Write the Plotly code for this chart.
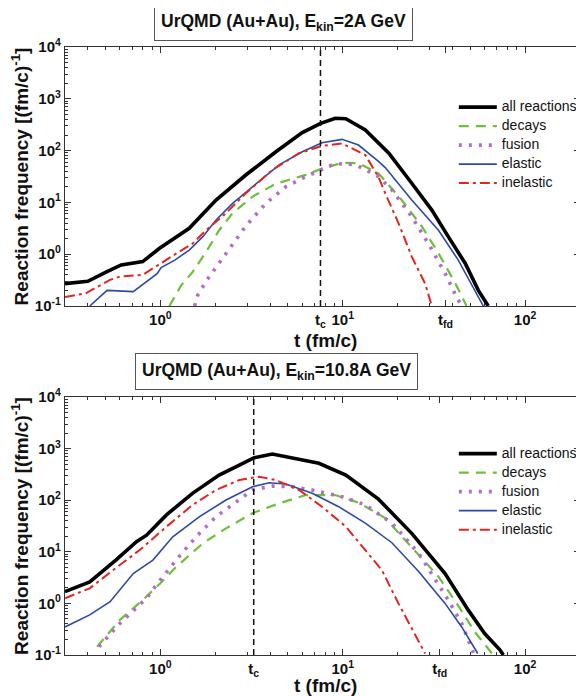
import plotly.graph_objects as go
from plotly.subplots import make_subplots

# ---------------- data: top panel (E_kin = 2A GeV) ----------------
t_all_top = [0.3, 0.4, 0.51, 0.61, 0.8, 0.99, 1.44, 2.02, 2.94, 4.3, 6.0, 7.57, 9.1, 10.4, 13.3, 17.9, 23.9, 30.8, 37.9, 46.9, 55.4, 62.8]
f_all_top = [0.27, 0.30, 0.46, 0.62, 0.72, 1.3, 3.16, 11.1, 33.8, 95, 222, 336, 421, 413, 250, 89, 23.4, 7.1, 2.18, 0.67, 0.2, 0.1]

t_dec_top = [1.12, 1.3, 1.5, 1.78, 2.1, 2.49, 3.2, 4.3, 6.27, 7.7, 9.9, 12.2, 15.7, 17.1, 21.1, 27.2, 33.5, 41.3, 47.8]
f_dec_top = [0.1, 0.25, 0.45, 1.1, 2.9, 6.2, 12.9, 23, 34, 45, 58, 57, 36.5, 26, 11, 3.4, 1.04, 0.28, 0.1]

t_fus_top = [1.54, 1.6, 1.78, 2.02, 2.39, 2.94, 3.79, 4.87, 6.27, 8.75, 10.4, 12.2, 15.7, 18.6, 23.9, 29.5, 36.4, 42, 45]
f_fus_top = [0.1, 0.16, 0.3, 0.55, 1.3, 3.5, 9.6, 20, 31.5, 53, 57, 50, 31.6, 17.4, 5.3, 1.6, 0.43, 0.15, 0.1]

t_ela_top = [0.41, 0.51, 0.71, 0.84, 0.96, 1.01, 1.2, 1.44, 1.71, 2.02, 2.49, 3.2, 4.48, 6.0, 7.7, 9.9, 12.2, 15.7, 17.1, 23.9, 33.5, 43, 53, 59]
f_ela_top = [0.1, 0.2, 0.19, 0.29, 0.42, 0.55, 0.77, 1.2, 2.18, 4.57, 9.6, 20, 53, 95, 142, 165, 128, 62, 47, 11.1, 2.9, 0.77, 0.2, 0.1]

t_ine_top = [0.3, 0.39, 0.53, 0.6, 0.8, 1.0, 1.27, 1.5, 1.78, 2.29, 2.94, 4.1, 5.76, 7.7, 9.9, 13.3, 15.7, 17.1, 20.2, 23.9, 28.3, 30.8]
f_ine_top = [0.15, 0.176, 0.32, 0.37, 0.4, 0.67, 1.12, 1.6, 2.9, 6.2, 15, 42, 89, 123, 138, 82, 31, 15, 4, 0.9, 0.27, 0.1]

tc_top = 7.55
tfd_top = 36.6

# ---------------- data: bottom panel (E_kin = 10.8A GeV) ----------------
t_all_bot = [0.3, 0.41, 0.57, 0.74, 0.84, 1.08, 1.5, 2.1, 2.71, 3.27, 4.11, 5.3, 7.4, 10.4, 15.7, 23.9, 33.5, 36.4, 48.8, 60, 72.7, 76]
f_all_bot = [1.69, 2.6, 6.9, 15.7, 21, 52, 136, 307, 481, 667, 785, 667, 519, 307, 105, 22.8, 5.5, 3.8, 0.74, 0.26, 0.126, 0.1]

t_dec_bot = [0.45, 0.6, 0.8, 1.0, 1.22, 1.71, 2.29, 3.2, 4.48, 6.27, 9.1, 12.2, 17.1, 23.9, 33.5, 43, 53, 65.5, 68]
f_dec_bot = [0.145, 0.48, 1.16, 2.45, 5.1, 14.6, 28.5, 56, 87, 126, 126, 90, 45, 12.5, 3.3, 0.9, 0.28, 0.11, 0.1]

t_fus_bot = [0.46, 0.6, 0.84, 0.95, 1.22, 1.57, 2.02, 2.6, 3.2, 4.11, 5.3, 6.8, 9.9, 13.3, 18.6, 26, 37.9, 44.9, 52]
f_fus_bot = [0.145, 0.41, 1.26, 2.27, 6.9, 19.6, 48, 94, 158, 188, 183, 158, 117, 81, 36, 9.5, 1.16, 0.41, 0.11]

t_ela_bot = [0.3, 0.41, 0.53, 0.71, 0.91, 1.17, 1.64, 2.29, 3.2, 3.95, 4.87, 6.8, 9.5, 13.3, 18.6, 26, 36.4, 44.9, 55]
f_ela_bot = [0.35, 0.6, 1.08, 3.8, 6.9, 19.6, 48, 101, 183, 218, 206, 136, 75, 36, 15, 4.2, 1.0, 0.35, 0.107]

t_ine_bot = [0.3, 0.41, 0.55, 0.77, 1.08, 1.5, 2.02, 2.71, 3.48, 4.3, 5.76, 7.7, 10.4, 13.3, 16.4, 20.2, 23.9, 28.3]
f_ine_bot = [1.26, 1.96, 4.4, 10.8, 30.7, 81, 158, 246, 286, 246, 158, 75, 30.7, 10.8, 4.4, 1.0, 0.33, 0.107]

tc_bot = 3.25
tfd_bot = 34.0

titles = ["UrQMD (Au+Au), E<sub>kin</sub>=2A GeV", "UrQMD (Au+Au), E<sub>kin</sub>=10.8A GeV"]
names = ["all reactions", "decays", "fusion", "elastic", "inelastic"]
x_title = "t (fm/c)"
y_title = "Reaction frequency [(fm/c)<sup>-1</sup>]"
y_tickvals = [0.1, 1, 10, 100, 1000, 10000]
y_ticktext = ["10<sup>-1</sup>", "10<sup>0</sup>", "10<sup>1</sup>", "10<sup>2</sup>", "10<sup>3</sup>", "10<sup>4</sup>"]

FONT = "Liberation Sans, Arial, sans-serif"
styles = [
    dict(color="#000000", width=3.6, dash="solid"),
    dict(color="#6cc03a", width=2.2, dash="10px,7px"),
    dict(color="#b46cc6", width=3.6, dash="3px,7px"),
    dict(color="#2b4aa3", width=1.6, dash="solid"),
    dict(color="#e0261e", width=2.0, dash="10px,4px,3px,4px"),
]

fig = make_subplots(rows=2, cols=1)
# page body has an 8px margin: figure is 576x688 so the plot lands where the reference has it
fig.update_layout(
    width=576, height=688,
    margin=dict(l=57, r=2, t=39, b=41),
    paper_bgcolor="white", plot_bgcolor="white",
    font=dict(family=FONT, color="#111"),
)

panels = [
    ([t_all_top, t_dec_top, t_fus_top, t_ela_top, t_ine_top],
     [f_all_top, f_dec_top, f_fus_top, f_ela_top, f_ine_top], tc_top, tfd_top, "legend"),
    ([t_all_bot, t_dec_bot, t_fus_bot, t_ela_bot, t_ine_bot],
     [f_all_bot, f_dec_bot, f_fus_bot, f_ela_bot, f_ine_bot], tc_bot, tfd_bot, "legend2"),
]

minor_vals = [m * 10 ** e for e in range(-2, 4) for m in range(2, 10)]

for i, (ts, fs, tc, tfd, leg) in enumerate(panels):
    row = i + 1
    for k in range(5):
        fig.add_trace(go.Scatter(x=ts[k], y=fs[k], mode="lines",
                                 name='<span style="font-size:14px">' + names[k] + "</span>",
                                 line=styles[k], legend=leg, showlegend=True),
                      row=row, col=1)
    axis_common = dict(type="log", showline=True, linecolor="#333", linewidth=1.2,
                       mirror="allticks", ticks="inside", ticklen=6, tickcolor="#333",
                       showgrid=False, zeroline=False,
                       tickfont=dict(family=FONT, size=15, weight="bold", color="#111"),
                       minor=dict(tickmode="array", tickvals=minor_vals, ticks="inside",
                                  ticklen=3, tickcolor="#333", showgrid=False))
    fig.update_xaxes(range=[-0.5229, 2.301], tickmode="array",
                     tickvals=[1, tc, 10, tfd, 100],
                     ticktext=["10<sup>0</sup>", "t<sub>c</sub>", "10<sup>1</sup>", "t<sub>fd</sub>", "10<sup>2</sup>"],
                     ticklabelstandoff=0,
                     row=row, col=1, **axis_common)
    fig.update_yaxes(range=[-1, 4], tickmode="array", tickvals=y_tickvals, ticktext=y_ticktext,
                     title=dict(text=y_title, font=dict(family=FONT, size=19, weight="bold"), standoff=3),
                     row=row, col=1, **axis_common)
    xref = "x" if row == 1 else "x2"
    yref = "y domain" if row == 1 else "y2 domain"
    fig.add_shape(type="line", x0=tc, x1=tc, y0=0, y1=1, xref=xref, yref=yref,
                  line=dict(color="#111", width=1.5, dash="6px,4px"))

fig.update_layout(
    yaxis=dict(domain=[0.574, 1.0]),
    yaxis2=dict(domain=[0.0, 0.4243]),
    legend=dict(x=0.755, y=0.925, xanchor="left", yanchor="top", bgcolor="rgba(0,0,0,0)",
                font=dict(family=FONT, size=11, color="#111"), tracegroupgap=0, itemwidth=38),
    legend2=dict(x=0.755, y=0.355, xanchor="left", yanchor="top", bgcolor="rgba(0,0,0,0)",
                 font=dict(family=FONT, size=11, color="#111"), tracegroupgap=0, itemwidth=38),
)

# x-axis titles
for ay in (0.518, -0.050):
    fig.add_annotation(text=x_title, x=0.505, y=ay, xref="paper", yref="paper", showarrow=False,
                       xanchor="center", yanchor="middle",
                       font=dict(family=FONT, size=19, weight="bold", color="#111"))

title_pos = [(0.4236, 1.041), (0.41, 0.4655)]
for txt, (ax, ay) in zip(titles, title_pos):
    fig.add_annotation(text=txt, x=ax, y=ay, xref="paper", yref="paper", showarrow=False,
                       xanchor="center", yanchor="middle",
                       font=dict(family=FONT, size=17.5, weight="bold", color="#111"),
                       bordercolor="#555", borderwidth=1, borderpad=6, bgcolor="white")

fig.write_html("out.html")
